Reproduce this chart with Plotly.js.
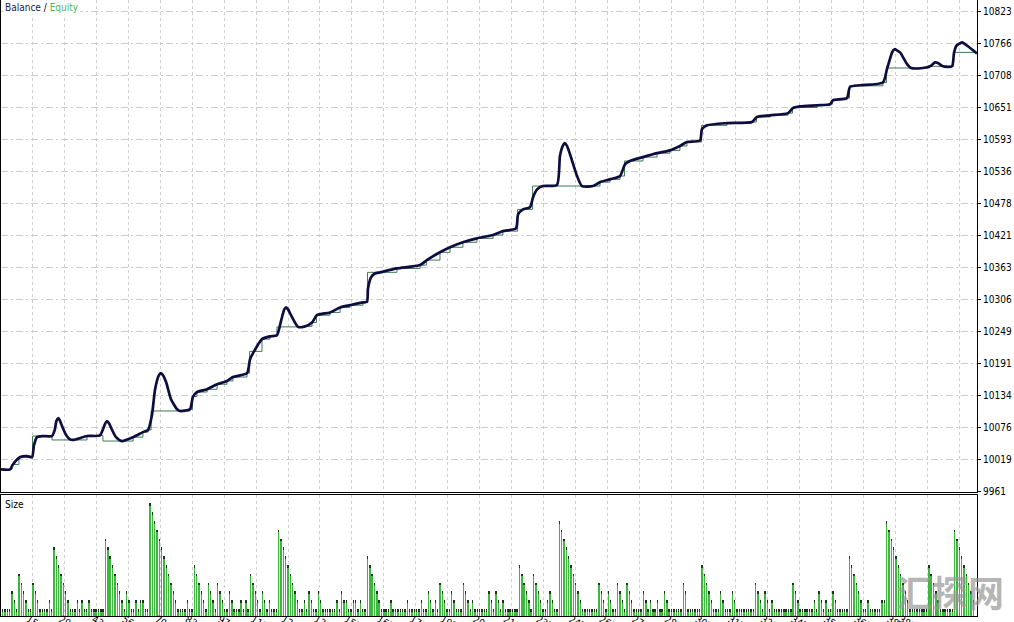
<!DOCTYPE html>
<html><head><meta charset="utf-8">
<script src="https://cdn.plot.ly/plotly-3.0.1.min.js"></script>
<style>html,body{margin:0;padding:0;background:#fff;overflow:hidden}#chart{width:1014px;height:622px}</style>
</head><body><div id="chart"></div>
<script>
// Equity (thick smooth curve): trade number -> value
const eqTrade = [1.3,5.2,6.4,9.4,12.4,14.6,15.4,16.7,19.3,23.1,24.3,25.0,25.7,26.4,27.5,29.0,30.5,32.1,38.1,43.6,44.9,45.8,46.6,47.5,48.8,50.5,53.0,57.8,62.0,64.2,65.9,67.2,68.8,69.7,70.6,71.9,74.0,76.6,77.8,82.1,83.4,85.1,89.4,93.7,97.9,100.5,106.5,107.8,109.5,112.9,116.3,119.3,121.0,122.4,123.2,124.1,125.3,128.3,131.3,134.3,136.4,142.0,146.3,150.5,156.1,157.8,158.2,159.5,161.2,163.4,170.6,180.5,183.4,189.0,193.3,198.8,204.8,211.7,215.9,221.5,222.4,224.5,227.5,228.8,230.5,233.0,239.0,240.3,241.6,242.4,243.3,244.6,247.6,249.7,254.4,257.4,261.7,266.0,268.1,270.2,275.8,281.8,287.3,291.6,294.6,300.2,301.0,303.2,311.7,322.4,324.5,330.1,337.8,339.9,342.9,350.2,355.8,357.0,363.0,364.3,368.6,378.4,380.1,382.3,382.9,383.5,384.2,385.7,388.7,390.4,395.5,398.5,400.6,401.9,404.0,407.9,408.8,410.0,411.3,412.2,413.1,414.7,418.6];
const eqValue = [10001,10001,10010,10023,10025,10023,10044,10059,10061,10061,10072,10088,10093,10090,10078,10064,10056,10054,10061,10062,10073,10083,10088,10084,10072,10059,10052,10059,10068,10072,10100,10145,10170,10174,10170,10158,10127,10109,10106,10109,10132,10140,10145,10154,10160,10167,10174,10199,10213,10235,10240,10242,10267,10288,10292,10288,10278,10257,10258,10265,10278,10283,10292,10296,10301,10302,10325,10346,10353,10355,10362,10368,10377,10391,10400,10409,10416,10422,10429,10434,10459,10468,10472,10490,10504,10510,10512,10564,10583,10587,10582,10567,10528,10510,10510,10517,10522,10528,10549,10555,10562,10569,10574,10582,10589,10592,10612,10619,10623,10625,10634,10637,10641,10650,10653,10655,10657,10664,10668,10688,10691,10696,10720,10750,10754,10756,10754,10750,10729,10722,10722,10725,10732,10731,10725,10725,10750,10763,10766,10768,10766,10761,10748];
// Balance (thin step line)
const balTrade = [1.3,6.0,9.0,14.8,23.1,38.1,43.6,44.9,57.8,62.0,64.2,65.5,82.1,83.2,85.1,89.4,93.7,97.9,100.5,106.5,107.6,112.9,116.3,119.3,131.3,134.3,136.2,142.0,146.3,150.5,156.1,158.0,170.6,180.5,183.2,189.0,193.3,198.8,204.8,211.7,215.9,222.2,228.6,257.4,261.7,266.0,267.9,275.8,281.8,287.3,291.6,294.6,300.8,311.7,322.4,324.3,330.1,337.8,339.7,350.2,355.8,356.8,363.0,364.1,378.4,379.9,398.3,408.6,418.6];
const balValue = [10001,10010,10023,10061,10054,10061,10062,10052,10059,10068,10072,10106,10109,10132,10140,10145,10154,10160,10167,10174,10213,10235,10240,10257,10258,10265,10278,10283,10292,10296,10301,10355,10362,10368,10377,10391,10400,10409,10416,10422,10429,10468,10510,10517,10522,10528,10555,10562,10569,10574,10582,10589,10619,10623,10625,10634,10637,10641,10651,10655,10657,10665,10668,10690,10696,10722,10725,10750,10750];
// Size of each trade (trade 1..417)
const sizeValue = [
1,1,1,1,1,3,2,1,5,4,3,2,1,1,4,3,2,1,1,1,
1,2,1,8,7,6,5,4,3,2,1,1,1,2,1,2,1,1,2,1,
1,1,1,1,1,9,8,7,6,5,4,3,2,1,3,2,1,1,2,1,
2,2,1,1,13,12,11,10,9,8,7,6,5,4,3,2,1,1,1,1,
2,1,1,6,5,4,3,2,1,4,3,2,1,4,3,2,1,1,3,2,
1,1,1,2,1,2,1,5,4,3,2,1,3,2,1,2,1,1,1,10,
9,8,7,6,5,4,3,2,1,1,2,1,3,2,1,1,3,2,1,1,
1,1,1,1,2,1,3,2,2,1,1,2,2,1,2,1,1,7,6,5,
4,3,2,1,1,1,1,2,1,1,1,1,1,1,2,1,1,1,1,1,
2,1,1,3,2,1,2,1,4,3,2,1,1,3,2,1,1,1,4,3,
2,1,2,1,1,1,1,1,1,3,2,1,3,2,1,2,1,1,1,1,
1,1,6,5,4,3,2,1,5,4,3,2,1,1,2,3,2,1,1,11,
10,9,8,7,6,5,4,3,2,1,1,1,1,1,1,1,4,3,2,1,
3,2,1,1,4,3,2,1,4,3,2,1,1,1,1,3,2,1,2,1,
1,2,1,1,3,2,1,1,1,1,1,1,4,3,1,1,1,1,1,1,
6,5,4,3,2,1,1,1,3,2,1,1,1,3,2,1,1,1,1,1,
1,1,1,4,3,2,1,3,2,1,2,1,1,1,1,1,1,1,1,4,
3,2,1,1,1,1,1,1,2,1,3,2,1,2,1,1,3,2,1,1,
1,1,1,7,6,5,4,3,2,1,1,2,1,1,1,1,1,2,2,11,
10,9,8,7,6,5,4,3,2,1,1,1,1,1,1,1,1,6,5,4,
3,2,1,1,1,1,1,1,10,9,8,7,6,5,4,3,2];
const sizeTrade = sizeValue.map((_, i) => i + 1);
const yTickLabels = ['9961','10019','10076','10134','10191','10249','10306','10363','10421','10478','10536','10593','10651','10708','10766','10823'];
const xTickLabels = ['1','15','29','43','56','70','83','97','111','124','138','151','165','179','192','206','219','233','247','260','274','288','301','315','329','342','356','369','383','388'];

const FONT = "'Liberation Sans Narrow', 'DejaVu Sans Condensed', 'Liberation Sans', Arial, sans-serif";
const xRange = [1.32, 418.6];
const gridV = {color:'#cfcfcf', dash:'3px,3px'};
const tipH = 0.3;

const traces = [
  {type:'bar', x:sizeTrade, y:sizeValue, xaxis:'x2', yaxis:'y2', width:0.6,
   marker:{color:'#3cb83c', line:{width:0}}, hoverinfo:'skip'},
  {type:'bar', x:sizeTrade, y:sizeValue.map(() => tipH), base:sizeValue.map(s => s - tipH),
   xaxis:'x2', yaxis:'y2', width:0.6, marker:{color:'#1e321e', line:{width:0}}, hoverinfo:'skip'},
  {type:'scatter', mode:'lines', x:balTrade, y:balValue, xaxis:'x', yaxis:'y',
   line:{color:'#3f7a52', width:1, shape:'hv'}, hoverinfo:'skip'},
  {type:'scatter', mode:'lines', x:eqTrade, y:eqValue, xaxis:'x', yaxis:'y',
   line:{color:'#0d0d40', width:2.7, shape:'spline', smoothing:0.6}, hoverinfo:'skip'}
];

const layout = {
  width:1014, height:622,
  margin:{l:1, r:37, t:0, b:6, pad:0},
  paper_bgcolor:'#fff', plot_bgcolor:'#fff',
  showlegend:false, barmode:'overlay', bargap:0,
  font:{family:FONT, size:10, color:'#000'},
  xaxis:{domain:[0,1], anchor:'y', range:xRange, showticklabels:false, ticks:'',
    tickmode:'linear', tick0:1, dtick:13.67, showgrid:true, gridcolor:gridV.color, griddash:gridV.dash, gridwidth:1,
    showline:true, linecolor:'#000', linewidth:1, mirror:false, zeroline:false},
  yaxis:{domain:[0.2013,1], anchor:'x', side:'right', range:[9960.5,10844.1],
    tickmode:'array', tickvals:yTickLabels.map(Number), ticktext:yTickLabels,
    ticks:'outside', ticklen:3, tickcolor:'#000',
    showgrid:true, gridcolor:'#cdcdcd', griddash:'7px,3px,2px,3px', gridwidth:1,
    showline:true, linecolor:'#000', linewidth:1, mirror:true, zeroline:false,
    tickfont:{family:FONT, size:10, color:'#000'}},
  xaxis2:{domain:[0,1], anchor:'y2', range:xRange,
    tickmode:'array', tickvals:xTickLabels.map(Number), ticktext:xTickLabels,
    ticks:'', showgrid:false, ticklabelshift:-5, ticklabelstandoff:-7,
    minor:{tickmode:'linear', tick0:1, dtick:13.67, showgrid:true, gridcolor:gridV.color, griddash:gridV.dash, gridwidth:1, ticks:''},
    showline:true, linecolor:'#000', linewidth:1, mirror:true, zeroline:false,
    tickfont:{family:FONT, size:10, color:'#000'}},
  yaxis2:{domain:[0,0.1964], anchor:'x2', side:'right', range:[0.2,13.95],
    showticklabels:false, ticks:'', showgrid:false,
    showline:true, linecolor:'#000', linewidth:1, mirror:true, zeroline:false},
  annotations:[
    {xref:'paper', yref:'paper', x:0.002, y:1, xanchor:'left', yanchor:'top', showarrow:false,
     text:"<span style='color:#1a1a48'>Balance</span> / <span style='color:#52b152'>Equity</span>",
     font:{family:FONT, size:10, color:'#000'}, bgcolor:'rgba(255,255,255,0.9)'},
    {xref:'paper', yref:'paper', x:0.002, y:0.1964, xanchor:'left', yanchor:'top', yshift:-2, showarrow:false,
     text:'Size', font:{family:FONT, size:10, color:'#000'}},
    {xref:'paper', yref:'paper', x:0.972, y:0.04, xanchor:'center', yanchor:'middle', showarrow:false,
     text:'<b>汇探网</b>', font:{family:"'Noto Sans CJK SC', sans-serif", size:36, color:'rgba(150,150,150,0.7)'}}
  ]
};

Plotly.newPlot('chart', traces, layout, {staticPlot:true, displayModeBar:false});
</script>
</body></html>
